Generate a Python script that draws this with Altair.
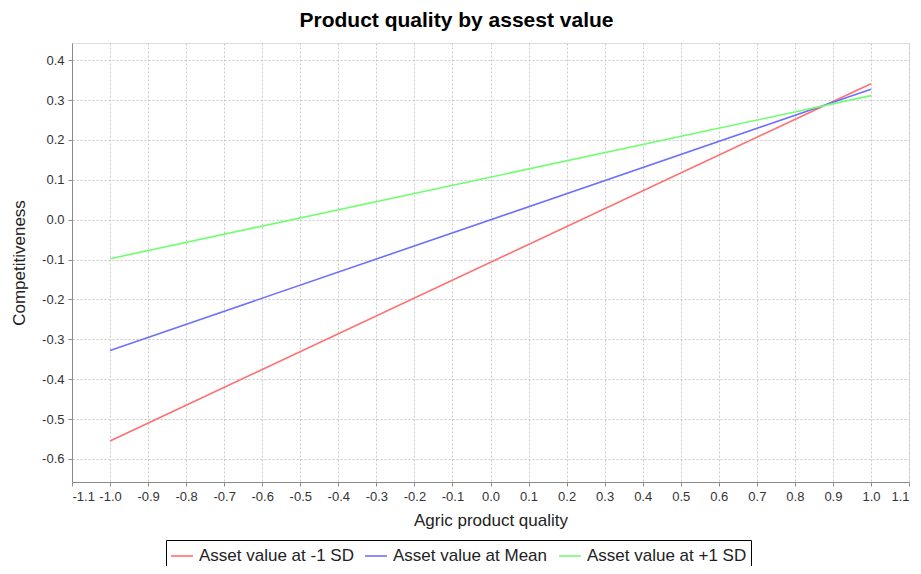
import altair as alt
import pandas as pd

series = ["Asset value at -1 SD", "Asset value at Mean", "Asset value at +1 SD"]
x_vals = [-1.0, 1.0]
low_sd = [-0.555, 0.341]
mean_vals = [-0.328, 0.327]
high_sd = [-0.098, 0.311]
colors = ["#FF6F6F", "#6F6FFF", "#6FFF6F"]
x_ticks = [round(-1.1 + 0.1 * i, 1) for i in range(23)]
y_ticks = [-0.6, -0.5, -0.4, -0.3, -0.2, -0.1, 0.0, 0.1, 0.2, 0.3, 0.4]

rows = []
for name, vals in zip(series, [low_sd, mean_vals, high_sd]):
    for i, (xv, yv) in enumerate(zip(x_vals, vals)):
        rows.append({"series": name, "x": xv, "y": yv, "order": i})
df = pd.DataFrame(rows)

FONT = "Liberation Sans"
LABEL_EXPR = "replace(format(datum.value, '.1f'), '\u2212', '-')"

base = alt.Chart(df)

lines = base.mark_line(strokeWidth=1.6, clip=True).encode(
    x=alt.X("x:Q",
            scale=alt.Scale(domain=[-1.1, 1.1], nice=False, zero=False),
            axis=alt.Axis(values=x_ticks, labelExpr=LABEL_EXPR, title="Agric product quality",
                          grid=True, gridDash=[2, 2], gridColor="#C8C8C8",
                          domainColor="#8A8A8A", tickColor="#8A8A8A", tickSize=4,
                          labelFont=FONT, labelFontSize=13, labelColor="#333333",
                          titleFont=FONT, titleFontSize=17, titleFontWeight="normal",
                          titleColor="#222222", titlePadding=9, labelPadding=4)),
    y=alt.Y("y:Q",
            scale=alt.Scale(domain=[-0.658, 0.443], nice=False, zero=False),
            axis=alt.Axis(values=y_ticks, labelExpr=LABEL_EXPR, title="Competitiveness",
                          grid=True, gridDash=[2, 2], gridColor="#C8C8C8",
                          domainColor="#8A8A8A", tickColor="#8A8A8A", tickSize=4,
                          labelFont=FONT, labelFontSize=13, labelColor="#333333",
                          titleFont=FONT, titleFontSize=17, titleFontWeight="normal",
                          titleColor="#222222", titlePadding=13, labelPadding=4)),
    color=alt.Color("series:N",
                    scale=alt.Scale(domain=series, range=colors),
                    legend=alt.Legend(title=None, orient="none", direction="horizontal",
                                      legendX=94, legendY=497,
                                      symbolType="stroke", symbolSize=484,
                                      symbolStrokeWidth=1.6, labelFont=FONT,
                                      labelFontSize=17, labelColor="#222222",
                                      strokeColor="#000000", padding=4,
                                      columnPadding=7, symbolOffset=0,
                                      labelOffset=5, labelLimit=300)),
    detail="series:N",
    order="order:Q",
)

chart = lines.properties(
    width=837,
    height=439,
    autosize=alt.AutoSizeParams(type="none"),
    padding={"left": 64, "top": 35, "right": 4, "bottom": 84},
    title=alt.TitleParams("Product quality by assest value", font=FONT, fontSize=21,
                          fontWeight="bold", color="#000000", anchor="middle",
                          dx=-34, offset=12),
).configure_view(
    stroke="#B0B0B0", strokeWidth=1
).configure(background="white")

chart.save("out.html", embed_options={"renderer": "svg", "actions": False})
